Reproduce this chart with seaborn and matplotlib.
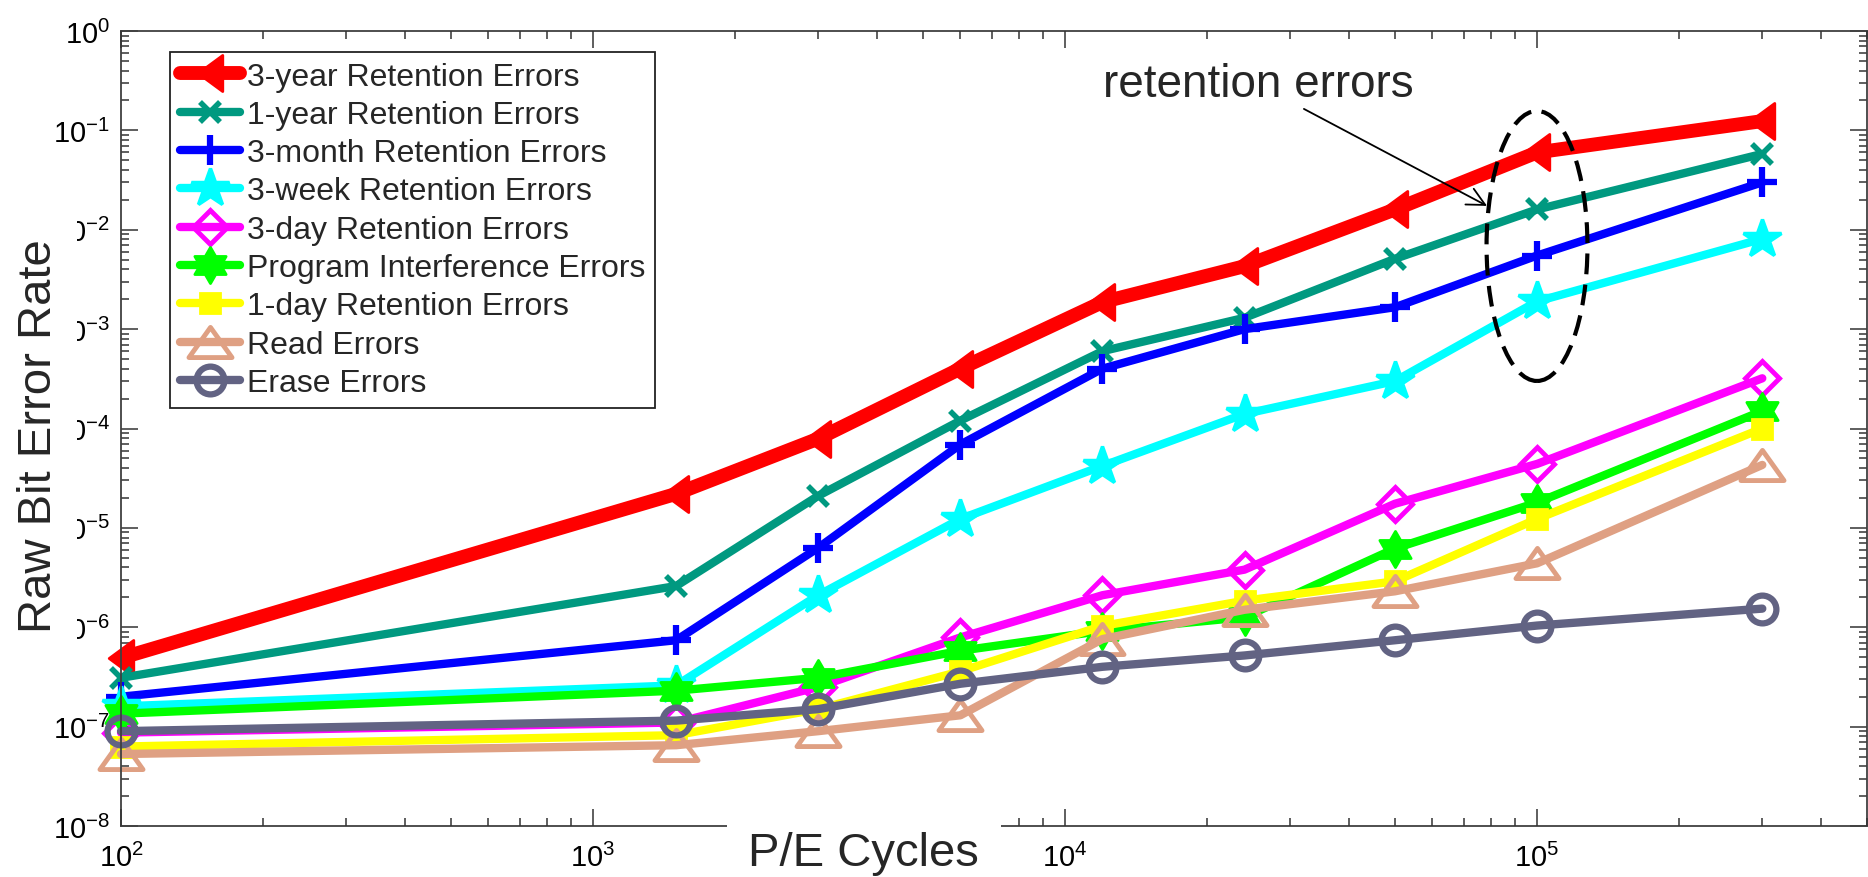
import numpy as np
import seaborn as sns
import matplotlib.pyplot as plt
from matplotlib.path import Path
from matplotlib.patches import Ellipse
from matplotlib.ticker import LogLocator, NullFormatter, LogFormatterSciNotation

# P/E cycles (x) and raw bit error rates
pe_cycles = [1e2, 1.5e3, 3e3, 6e3, 1.2e4, 2.4e4, 5e4, 1e5, 3e5]

ret_3year = [4.9e-7, 2.2e-5, 7.9e-5, 4.0e-4, 1.87e-3, 4.3e-3, 1.6e-2, 6.0e-2, 1.24e-1]
ret_1year = [3.1e-7, 2.6e-6, 2.1e-5, 1.2e-4, 6.0e-4, 1.3e-3, 5.1e-3, 1.6e-2, 5.8e-2]
ret_3month = [2.0e-7, 7.4e-7, 6.3e-6, 6.9e-5, 4.0e-4, 1.0e-3, 1.66e-3, 5.5e-3, 3.0e-2]
ret_3week = [1.6e-7, 2.6e-7, 2.1e-6, 1.23e-5, 4.2e-5, 1.4e-4, 3.0e-4, 1.9e-3, 8.1e-3]
ret_3day = [8.7e-8, 1.1e-7, 2.5e-7, 7.9e-7, 2.1e-6, 3.8e-6, 1.75e-5, 4.4e-5, 3.2e-4]
prog_interf = [1.35e-7, 2.3e-7, 3.1e-7, 5.8e-7, 9.2e-7, 1.26e-6, 6.2e-6, 1.8e-5, 1.5e-4]
ret_1day = [6.3e-8, 8.2e-8, 1.5e-7, 3.6e-7, 1.03e-6, 1.85e-6, 2.9e-6, 1.23e-5, 1.0e-4]
read_err = [5.3e-8, 6.5e-8, 9.0e-8, 1.3e-7, 7.6e-7, 1.5e-6, 2.3e-6, 4.4e-6, 4.3e-5]
erase_err = [9.0e-8, 1.15e-7, 1.5e-7, 2.7e-7, 4.0e-7, 5.2e-7, 7.4e-7, 1.04e-6, 1.54e-6]

labels = ["3-year Retention Errors", "1-year Retention Errors",
          "3-month Retention Errors", "3-week Retention Errors",
          "3-day Retention Errors", "Program Interference Errors",
          "1-day Retention Errors", "Read Errors", "Erase Errors"]
series = [ret_3year, ret_1year, ret_3month, ret_3week, ret_3day,
          prog_interf, ret_1day, read_err, erase_err]

sns.set_style("ticks")
plt.rcParams['font.family'] = ['Liberation Sans', 'DejaVu Sans']
plt.rcParams['mathtext.fontset'] = 'custom'
plt.rcParams['mathtext.rm'] = 'Liberation Sans'
plt.rcParams['mathtext.it'] = 'Liberation Sans:italic'
plt.rcParams['mathtext.bf'] = 'Liberation Sans:bold'


def closed_marker(pts):
    codes = [Path.MOVETO] + [Path.LINETO] * (len(pts) - 1) + [Path.CLOSEPOLY]
    return Path(pts + [pts[0]], codes)


# marker shapes in the MATLAB style
left_tri = closed_marker([(-0.68, 0), (0.68, -1), (0.68, 1)])
hexagram = Path.unit_regular_star(6, 0.577)
wide_tri = closed_marker([(0, 0.7), (-1, -0.7), (1, -0.7)])

styles = [
    dict(color="#FF0000", lw=10, marker=left_tri, ms=26, mew=2, mfc="#FF0000"),
    dict(color="#009980", lw=6, marker="x", ms=15, mew=4, mfc="#009980"),
    dict(color="#0000FF", lw=6, marker="+", ms=22, mew=4.5, mfc="#0000FF"),
    dict(color="#00FFFF", lw=6, marker="*", ms=29, mew=2.5, mfc="#00FFFF"),
    dict(color="#FF00FF", lw=6, marker="D", ms=17, mew=3.5, mfc="none"),
    dict(color="#00FF00", lw=6, marker=hexagram, ms=26, mew=2, mfc="#00FF00"),
    dict(color="#FFFF00", lw=6, marker="s", ms=14, mew=2, mfc="#FFFF00"),
    dict(color="#DFA083", lw=6, marker=wide_tri, ms=31, mew=3.5, mfc="none"),
    dict(color="#626383", lw=6, marker="o", ms=20, mew=4.5, mfc="none"),
]

fig = plt.figure(figsize=(18.68, 8.78), dpi=100)
ax = fig.add_axes([121 / 1868, 51 / 878, 1746 / 1868, 795 / 878])
ax.set_xscale("log")
ax.set_yscale("log")

for vals, lab, st in zip(series, labels, styles):
    sns.lineplot(x=pe_cycles, y=vals, ax=ax, color=st["color"],
                 linewidth=st["lw"], marker=st["marker"],
                 markersize=st["ms"], markeredgewidth=st["mew"],
                 markeredgecolor=st["color"], markerfacecolor=st["mfc"],
                 label=lab, clip_on=False, legend=False)

ax.set_xlim(1e2, 5e5)
ax.set_ylim(1e-8, 1e0)

ax.xaxis.set_major_locator(LogLocator(base=10, numticks=20))
ax.yaxis.set_major_locator(LogLocator(base=10, numticks=20))
ax.xaxis.set_minor_locator(LogLocator(base=10, subs=np.arange(2, 10), numticks=100))
ax.yaxis.set_minor_locator(LogLocator(base=10, subs=np.arange(2, 10), numticks=100))
ax.xaxis.set_major_formatter(LogFormatterSciNotation())
ax.yaxis.set_major_formatter(LogFormatterSciNotation())
ax.xaxis.set_minor_formatter(NullFormatter())
ax.yaxis.set_minor_formatter(NullFormatter())

ax.tick_params(which="both", direction="in", top=True, right=True,
               color="#333333", width=1.1, labelsize=21, labelcolor="black")
ax.tick_params(which="major", length=12)
ax.tick_params(which="minor", length=6)
ax.tick_params(axis="y", pad=8)
ax.tick_params(axis="x", pad=12)
for sp in ax.spines.values():
    sp.set_visible(True)
    sp.set_color("#404040")
    sp.set_linewidth(1.3)

ax.set_xlabel("P/E Cycles", fontsize=34,
              bbox=dict(facecolor="white", edgecolor="none",
                        boxstyle="square,pad=0.45"))
ax.xaxis.set_label_coords(0.4255, -0.006)
ax.xaxis.set_zorder(3)

ax.set_ylabel("Raw Bit Error Rate", fontsize=34,
              bbox=dict(facecolor="white", edgecolor="none",
                        boxstyle="square,pad=0.35"))
ax.yaxis.set_label_coords(-0.0344, 0.492)

leg = ax.legend(loc="upper left", bbox_to_anchor=(0.0281, 0.9736),
                borderaxespad=0, fontsize=23, frameon=True, fancybox=False,
                edgecolor="#222222", framealpha=1, labelspacing=0.26,
                handlelength=1.9, handletextpad=0.2, borderpad=0.3,
                numpoints=1)
leg.get_frame().set_linewidth(1.3)

# dashed ellipse around the 10^5 retention points
ax.add_patch(Ellipse((0.811, 0.7296), 0.0578, 0.3396, transform=ax.transAxes,
                     fill=False, edgecolor="black", linewidth=3,
                     linestyle=(0, (5, 2.5)), zorder=6, clip_on=False))

ax.text(0.7406, 0.918, "retention errors", transform=ax.transAxes,
        fontsize=33, ha="right", va="baseline")
ax.annotate("", xy=(0.7824, 0.780), xytext=(0.6775, 0.902),
            xycoords="axes fraction", textcoords="axes fraction",
            arrowprops=dict(arrowstyle="->", lw=1.3, color="black",
                            mutation_scale=32, shrinkA=0, shrinkB=0))

fig.savefig("out.png", dpi=100)
